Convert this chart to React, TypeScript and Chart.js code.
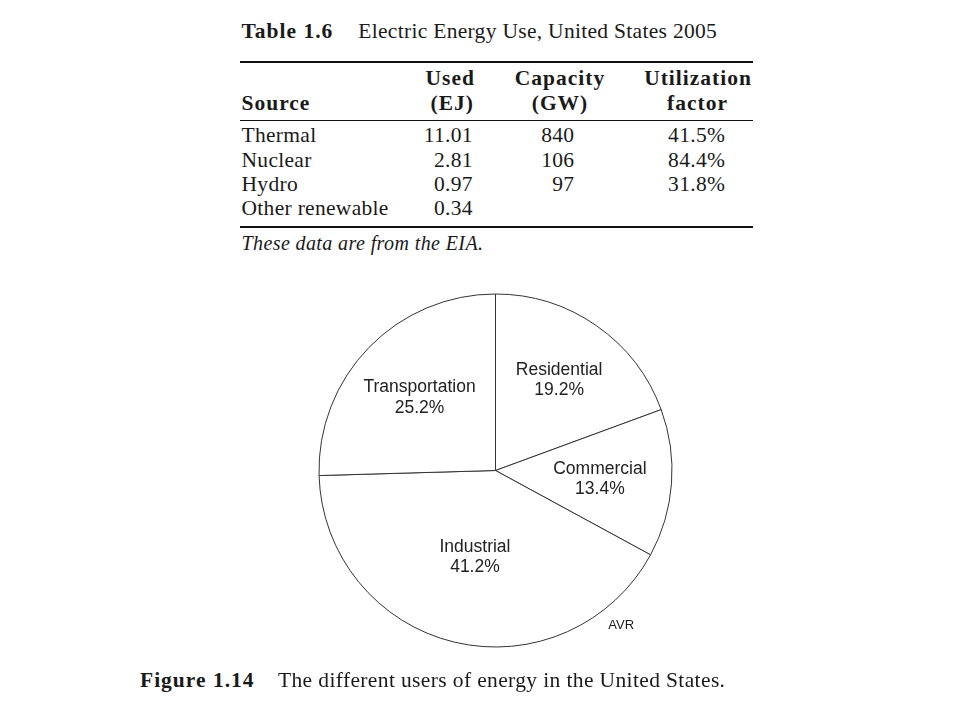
import React, { useEffect, useRef } from "react";
import { Chart, registerables } from "chart.js";

Chart.register(...registerables);

// ---------- data ----------
const tableTitleNumber = "Table 1.6";
const tableTitle = "Electric Energy Use, United States 2005";
const headerTop = ["", "Used", "Capacity", "Utilization"];
const headerBottom = ["Source", "(EJ)", "(GW)", "factor"];
const sources = ["Thermal", "Nuclear", "Hydro", "Other renewable"];
const usedEJ = ["11.01", "2.81", "0.97", "0.34"];
const capacityGW = ["840", "106", "97", ""];
const utilization = ["41.5%", "84.4%", "31.8%", ""];
const tableNote = "These data are from the EIA.";

const sectors = ["Residential", "Commercial", "Industrial", "Transportation"];
const sectorShares = [19.2, 13.4, 41.2, 25.2];
const credit = "AVR";
const figureNumber = "Figure 1.14";
const figureCaption = "The different users of energy in the United States.";

// ---------- layout helpers ----------
const SERIF = '"Liberation Serif", "Times New Roman", serif';
const SANS = '"Liberation Sans", Arial, sans-serif';
const INK = "#1a1a1a";

type TProps = {
  x: number;
  base: number;
  size: number;
  align?: "left" | "center" | "right";
  bold?: boolean;
  italic?: boolean;
  family?: string;
  asc?: number;
  spacing?: number;
  children: React.ReactNode;
};

function T({ x, base, size, align = "left", bold, italic, family = SERIF, asc = 0.8375, spacing, children }: TProps) {
  const ls = spacing !== undefined ? spacing : family === SERIF ? (bold ? 1.0 : 0.3) : 0;
  // compensate for trailing letter-spacing when aligning right/center
  const dx = align === "right" ? ls : align === "center" ? ls / 2 : 0;
  const shift = align === "left" ? "0" : align === "center" ? "-50%" : "-100%";
  return (
    <div
      style={{
        position: "absolute",
        left: x + dx,
        top: base - asc * size,
        fontFamily: family,
        fontSize: size,
        lineHeight: `${size}px`,
        fontWeight: bold ? "bold" : "normal",
        fontStyle: italic ? "italic" : "normal",
        letterSpacing: ls,
        color: INK,
        whiteSpace: "nowrap",
        transform: `translateX(${shift})`,
      }}
    >
      {children}
    </div>
  );
}

function Rule({ y, h }: { y: number; h: number }) {
  return <div style={{ position: "absolute", left: 240, top: y, width: 513, height: h, background: "#111" }} />;
}

// ---------- pie ----------
const labelDistance = [0.63, 0.593, 0.5, 0.6];

const sliceLabels = {
  id: "sliceLabels",
  afterDatasetsDraw(chart: any) {
    const ctx = chart.ctx;
    const meta = chart.getDatasetMeta(0);
    const data = chart.data.datasets[0].data as number[];
    ctx.save();
    ctx.fillStyle = "#222";
    ctx.font = `17.5px ${SANS}`;
    ctx.textAlign = "center";
    ctx.textBaseline = "alphabetic";
    meta.data.forEach((arc: any, i: number) => {
      const { x, y, startAngle, endAngle, outerRadius } = arc.getProps(
        ["x", "y", "startAngle", "endAngle", "outerRadius"],
        true
      );
      const mid = (startAngle + endAngle) / 2;
      const d = outerRadius * labelDistance[i];
      const cx = x + Math.cos(mid) * d;
      const cy = y + Math.sin(mid) * d;
      ctx.fillText(String(chart.data.labels[i]), cx, cy - 4.5);
      ctx.fillText(`${data[i].toFixed(1)}%`, cx, cy + 16.1);
    });
    ctx.restore();
  },
};

function EnergyPie() {
  const ref = useRef<HTMLCanvasElement>(null);
  useEffect(() => {
    if (!ref.current) return;
    const chart = new Chart(ref.current, {
      type: "pie",
      data: {
        labels: sectors,
        datasets: [
          {
            data: sectorShares,
            backgroundColor: "#ffffff",
            borderColor: "#333333",
            borderWidth: 1,
            radius: 176.5,
          } as any,
        ],
      },
      options: {
        responsive: false,
        animation: false,
        events: [],
        layout: { padding: 0 },
        plugins: {
          legend: { display: false },
          tooltip: { enabled: false },
          title: { display: false },
        },
      },
      plugins: [sliceLabels],
    });
    return () => chart.destroy();
  }, []);
  return (
    <canvas
      ref={ref}
      width={401}
      height={401}
      style={{ position: "absolute", left: 295, top: 270, width: 401, height: 401 }}
    />
  );
}

export default function App() {
  const F = 21.5;
  const rowBase = [143.5, 167.7, 191.9, 216.1];
  return (
    <div style={{ position: "absolute", left: 0, top: 0, width: 960, height: 720, background: "#fff", overflow: "hidden" }}>
      <T x={241.5} base={39.3} size={F} bold>{tableTitleNumber}</T>
      <T x={358.3} base={39.3} size={F}>{tableTitle}</T>
      <Rule y={60.7} h={2} />
      <T x={474} base={86} size={F} bold align="right">{headerTop[1]}</T>
      <T x={559.5} base={86} size={F} bold align="center">{headerTop[2]}</T>
      <T x={697.5} base={86} size={F} bold align="center">{headerTop[3]}</T>
      <T x={241.5} base={110.7} size={F} bold>{headerBottom[0]}</T>
      <T x={473} base={110.7} size={F} bold align="right">{headerBottom[1]}</T>
      <T x={559.5} base={110.7} size={F} bold align="center">{headerBottom[2]}</T>
      <T x={697} base={110.7} size={F} bold align="center">{headerBottom[3]}</T>
      <Rule y={119.5} h={1} />
      {sources.map((s, i) => (
        <React.Fragment key={s}>
          <T x={241.5} base={rowBase[i]} size={F}>{s}</T>
          <T x={472.5} base={rowBase[i]} size={F} align="right">{usedEJ[i]}</T>
          <T x={574} base={rowBase[i]} size={F} align="right">{capacityGW[i]}</T>
          <T x={696.5} base={rowBase[i]} size={F} align="center">{utilization[i]}</T>
        </React.Fragment>
      ))}
      <Rule y={226} h={2} />
      <T x={241.5} base={249.3} size={20} italic spacing={0.4}>{tableNote}</T>

      <EnergyPie />
      <T x={608.3} base={629.3} size={13} family={SANS} asc={0.8465}>{credit}</T>

      <T x={140} base={687.7} size={F} bold>{figureNumber}</T>
      <T x={278} base={687.7} size={F} spacing={0.37}>{figureCaption}</T>
    </div>
  );
}
